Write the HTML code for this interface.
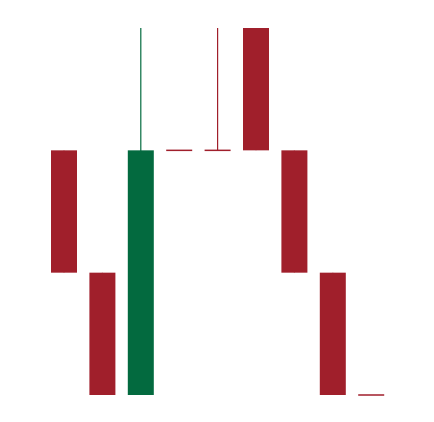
<!DOCTYPE html>
<html><head><meta charset="utf-8"><style>
html,body{margin:0;padding:0;background:#fff;width:434px;height:422px;overflow:hidden}
</style></head><body>
<svg id="chart" width="434" height="422" xmlns="http://www.w3.org/2000/svg"></svg>
<script>
const categories = [1,2,3,4,5,6,7,8,9];
const opens  = [3,2,1,3,3,4,3,2,1];
const highs  = [3,2,4,3,4,4,3,2,1];
const lows   = [2,1,1,3,3,3,2,1,1];
const closes = [2,1,3,3,3,3,2,1,1];

const svg = document.getElementById('chart');
const NS = 'http://www.w3.org/2000/svg';
function yScale(v){ return 395 - (v - 1) * 122.33; }
function xScale(i){ return 64 + i * 38.4; }
const bw = 26;
categories.forEach((c, i) => {
  const o = opens[i], cl = closes[i], h = highs[i], l = lows[i];
  const col = cl > o ? '#036a3f' : '#a01f2b';
  const cx = xScale(i);
  const wick = document.createElementNS(NS, 'line');
  
  
  wick.setAttribute('x1', cx); wick.setAttribute('x2', cx);
  wick.setAttribute('y1', yScale(h)); wick.setAttribute('y2', yScale(l));
  wick.setAttribute('stroke', col); wick.setAttribute('stroke-width', 1.2);
  svg.appendChild(wick);
  const top = yScale(Math.max(o, cl)), bot = yScale(Math.min(o, cl));
  const body = document.createElementNS(NS, 'rect');
  
  
  body.setAttribute('x', cx - bw / 2);
  body.setAttribute('width', bw);
  if (bot - top < 1) { body.setAttribute('y', top - 0.75); body.setAttribute('height', 1.5); }
  else { body.setAttribute('y', top); body.setAttribute('height', bot - top); }
  body.setAttribute('fill', col);
  svg.appendChild(body);
});
</script>
</body></html>
